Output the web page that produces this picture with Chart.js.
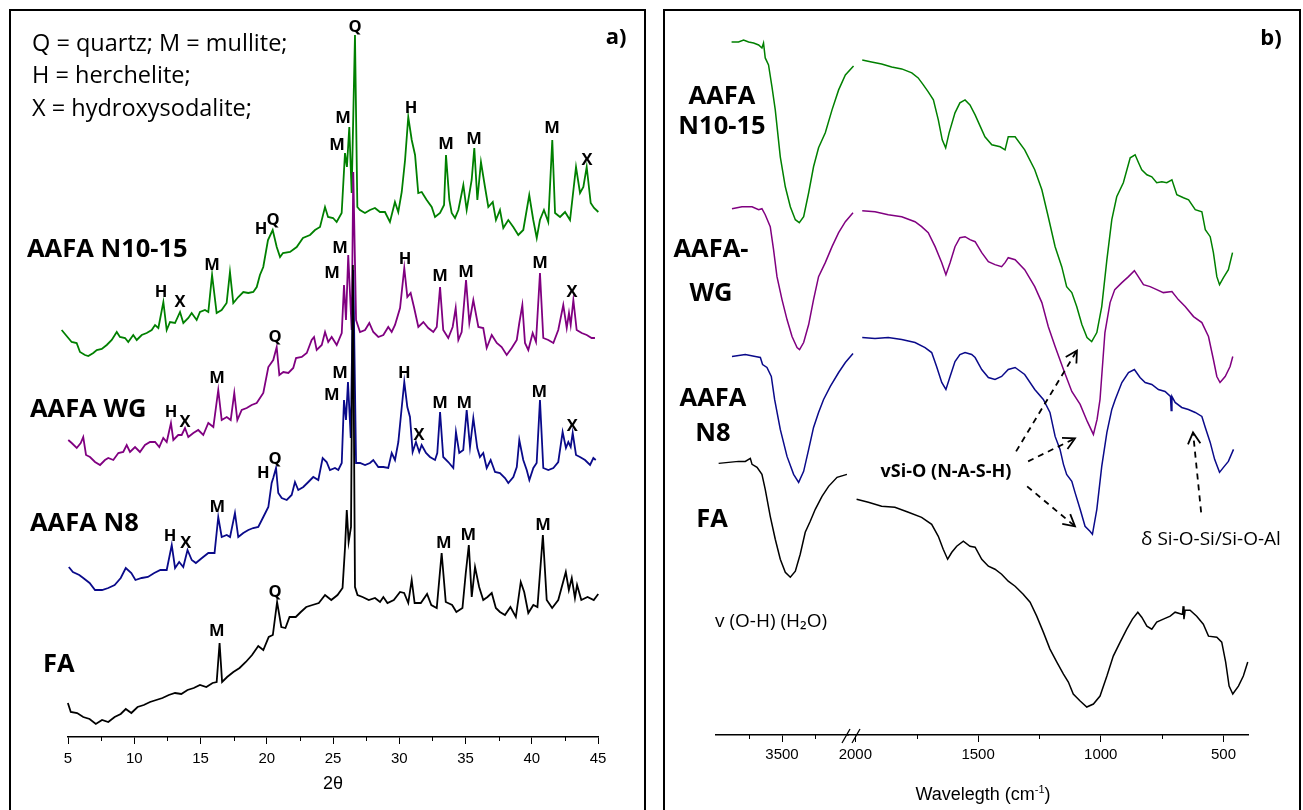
<!DOCTYPE html>
<html>
<head>
<meta charset="utf-8">
<script src="https://cdn.jsdelivr.net/npm/chart.js@4.4.1/dist/chart.umd.min.js"></script>
<style>
body { margin: 0; background: #fff; width: 1303px; height: 810px; overflow: hidden; position: relative; font-family: 'Open Sans', sans-serif; color: #000; }
.box { position: absolute; top: 9px; height: 830px; border: 2px solid #000; box-sizing: border-box; }
canvas { position: absolute; top: 10px; }
.t { position: absolute; white-space: nowrap; line-height: 1; transform: translateY(-50%); }
.c { position: absolute; white-space: nowrap; line-height: 1; transform: translate(-50%, -50%); }
.b { font-weight: bold; }
.name { font-weight: bold; font-size: 25.5px; }
</style>
</head>
<body>
<div class="box" style="left:9px;width:637px"></div>
<div class="box" style="left:663px;width:638px"></div>

<canvas id="xrd" width="637" height="800" style="left:9px"></canvas>
<canvas id="ftirLo" width="500" height="800" style="left:800px"></canvas>
<canvas id="ftirHi" width="240" height="800" style="left:664px"></canvas>

<!-- panel a texts -->
<div class="t" style="left:32px;top:43px;font-size:23.5px">Q = quartz; M = mullite;</div>
<div class="t" style="left:32px;top:75px;font-size:23.5px">H = herchelite;</div>
<div class="t" style="left:32px;top:108px;font-size:23.5px">X = hydroxysodalite;</div>
<div class="c b" style="left:616px;top:35px;font-size:22px">a)</div>
<div class="t name" style="left:27px;top:248px">AAFA N10-15</div>
<div class="t name" style="left:30px;top:408px">AAFA WG</div>
<div class="t name" style="left:30px;top:522px">AAFA N8</div>
<div class="t name" style="left:43px;top:663px">FA</div>

<!-- panel b texts -->
<div class="c b" style="left:1271px;top:36px;font-size:22px">b)</div>
<div class="c name" style="left:722px;top:95px">AAFA</div>
<div class="c name" style="left:722px;top:125px">N10-15</div>
<div class="c name" style="left:711px;top:248px">AAFA-</div>
<div class="c name" style="left:711px;top:292px">WG</div>
<div class="c name" style="left:713px;top:397px">AAFA</div>
<div class="c name" style="left:713px;top:432px">N8</div>
<div class="c name" style="left:712px;top:518px">FA</div>
<div class="c b" style="left:946px;top:470px;font-size:18px">vSi-O (N-A-S-H)</div>
<div class="c" style="left:1211px;top:538px;font-size:19px">δ Si-O-Si/Si-O-Al</div>
<div class="c" style="left:771px;top:620px;font-size:19px">v (O-H) (H₂O)</div>
<div class="c" style="left:983px;top:793px;font-size:18px;font-family:'Liberation Sans'">Wavelegth (cm<sup style="font-size:11px">-1</sup>)</div>

<script>
// ---------- XRD (panel a) ----------
const theta_N1015 = [5.00,5.24,5.48,5.96,6.20,6.56,6.80,7.16,7.40,7.76,8.01,8.37,8.73,9.09,9.45,9.68,10.05,10.28,10.64,10.89,11.25,11.61,11.97,12.21,12.45,12.81,13.05,13.29,13.65,14.01,14.25,14.61,14.85,15.21,15.45,15.81,16.05,16.32,16.65,17.01,17.37,17.61,17.85,18.21,18.57,18.93,19.29,19.54,19.77,20.01,20.35,20.69,20.98,21.22,21.43,21.94,22.42,22.87,23.38,23.74,24.10,24.46,24.68,25.04,25.30,25.66,25.90,26.04,26.21,26.38,26.62,26.79,26.98,27.34,27.70,28.06,28.42,28.78,29.14,29.50,29.74,29.99,30.23,30.46,30.71,30.95,31.18,31.43,31.79,32.15,32.39,32.75,33.04,33.18,33.42,33.59,33.83,34.07,34.43,34.67,35.03,35.22,35.44,35.70,35.99,36.23,36.55,36.78,37.07,37.31,37.67,38.03,38.39,38.75,39.18,39.47,39.72,39.95,40.24,40.55,40.84,41.04,41.40,41.76,42.12,42.55,42.84,43.08,43.32,43.61,43.85,44.16,44.52,45.00];
const int_N1015 = [410,415,407,399,395,394,385,382,381,384,387,388,392,397,405,400,399,395,402,397,402,404,407,412,409,435,407,415,414,425,414,419,424,417,425,427,425,462,424,427,434,465,434,440,445,444,445,450,462,470,497,507,490,480,484,485,490,499,502,507,510,530,520,519,515,524,584,570,610,544,702,530,527,524,527,529,525,525,515,535,525,545,577,620,597,582,544,545,537,530,520,524,532,582,537,524,519,527,552,527,557,589,537,575,550,530,535,517,527,509,517,510,502,507,542,517,499,517,527,515,597,524,520,525,517,570,544,550,570,534,529,525,524,520];

const theta_WG = [5.02,5.28,5.66,5.96,6.15,6.36,6.66,7.04,7.42,7.79,8.04,8.42,8.80,9.17,9.43,9.68,10.06,10.43,10.81,11.19,11.57,11.89,12.19,12.45,12.77,12.95,13.32,13.58,13.83,14.08,14.46,14.83,15.21,15.59,15.97,16.34,16.60,16.98,17.28,17.55,17.78,18.11,18.49,18.86,19.24,19.74,20.12,20.49,20.75,20.95,21.25,21.63,22.00,22.21,22.64,23.02,23.39,23.57,23.77,24.15,24.40,24.64,24.90,25.28,25.66,25.83,25.98,26.15,26.41,26.53,26.74,27.04,27.42,27.74,28.04,28.42,28.80,29.17,29.43,29.68,30.06,30.38,30.61,30.86,31.11,31.44,31.82,32.19,32.57,32.83,33.08,33.32,33.70,34.03,34.26,34.46,34.71,35.04,35.29,35.59,35.97,36.34,36.60,36.98,37.36,37.73,38.11,38.49,38.87,39.06,39.29,39.49,39.74,40.07,40.32,40.62,40.87,41.25,41.63,42.00,42.38,42.64,42.81,42.94,43.14,43.39,43.77,44.15,44.52,44.77];
const int_WG = [297,294,289,294,300,282,280,275,272,277,279,277,284,285,292,285,290,285,292,295,295,290,299,295,314,297,302,302,309,300,304,307,302,314,310,347,317,320,317,344,317,327,329,332,334,344,370,377,390,362,365,364,369,379,380,384,397,400,387,392,405,395,400,392,404,452,417,482,407,565,417,405,407,414,405,400,402,410,405,412,429,469,440,444,430,410,415,409,405,410,450,407,399,410,429,397,405,457,414,437,410,409,389,402,394,390,382,389,397,414,432,394,387,404,395,464,399,397,394,407,432,409,424,412,437,407,404,402,399,399];

const theta_N8 = [5.06,5.37,5.85,6.15,6.63,7.04,7.57,8.04,8.52,8.98,9.36,9.78,10.09,10.56,11.03,11.51,11.97,12.45,12.83,13.08,13.39,13.70,14.02,14.34,14.65,15.11,15.59,16.06,16.34,16.60,16.98,17.23,17.60,17.85,18.23,18.61,18.98,19.36,19.74,20.12,20.37,20.49,20.70,20.87,21.13,21.51,21.88,22.13,22.38,22.76,23.14,23.51,23.89,24.22,24.52,24.77,25.15,25.40,25.66,25.83,25.98,26.13,26.34,26.53,26.74,27.04,27.42,27.79,28.04,28.42,28.80,29.17,29.43,29.68,29.93,30.19,30.38,30.61,30.81,31.01,31.26,31.51,31.69,32.02,32.32,32.70,32.87,33.08,33.32,33.70,34.08,34.28,34.53,34.83,35.09,35.34,35.59,35.89,36.09,36.34,36.60,36.90,37.23,37.60,37.98,38.23,38.61,38.87,39.06,39.36,39.62,39.82,40.12,40.37,40.62,40.87,41.25,41.63,42.00,42.33,42.58,42.76,42.94,43.09,43.34,43.64,44.02,44.40,44.65,44.83];
const int_N8 = [170,165,162,159,154,147,147,149,152,159,169,164,157,159,160,164,167,167,192,169,175,170,187,177,174,179,184,184,220,200,202,200,224,200,204,207,209,210,220,230,254,259,269,244,239,237,242,255,247,250,255,260,257,279,275,267,269,267,274,337,317,355,299,467,274,274,272,274,277,270,270,269,284,277,295,330,355,330,320,285,295,285,292,284,280,277,284,325,280,275,269,305,284,287,327,290,319,289,280,284,269,277,265,264,259,254,260,270,297,277,267,257,269,274,337,269,267,269,275,305,289,295,290,304,282,280,277,272,279,277];

const theta_FA = [4.99,5.21,5.69,6.15,6.63,7.10,7.57,8.04,8.52,8.98,9.36,9.78,10.25,10.72,11.19,11.66,12.13,12.61,13.08,13.55,14.02,14.49,14.96,15.44,15.91,16.22,16.44,16.63,17.01,17.48,17.95,18.42,18.89,19.36,19.74,20.15,20.46,20.78,21.10,21.41,21.72,22.19,22.57,22.98,23.45,23.93,24.40,24.87,25.34,25.72,25.91,26.04,26.18,26.36,26.50,26.66,26.85,27.23,27.70,28.17,28.55,28.80,29.11,29.59,30.06,30.37,30.68,30.94,31.16,31.63,32.10,32.42,32.83,33.20,33.51,33.99,34.31,34.77,35.02,35.25,35.47,35.72,36.03,36.34,36.66,36.98,37.29,37.60,37.98,38.39,38.80,39.17,39.43,39.74,40.12,40.43,40.84,41.13,41.54,42.00,42.57,42.80,43.02,43.26,43.42,43.74,44.21,44.68,45.02];
const int_FA = [34,25,24,20,18,13,17,15,20,23,28,24,30,32,35,37,39,42,44,43,47,49,52,50,54,55,94,55,60,65,69,75,82,91,87,100,102,135,110,109,120,120,125,130,132,134,142,137,142,149,190,227,195,210,472,150,142,140,137,139,135,140,134,137,145,144,134,157,134,134,143,132,129,184,135,132,125,129,164,192,140,170,150,137,140,144,129,125,122,130,120,155,145,124,132,130,202,137,129,137,165,147,159,139,152,137,140,137,143];

const xrdMinorTicks = [7.5,12.5,17.5,22.5,27.5,32.5,37.5,42.5];

// phase labels: [letter, 2theta, height]
const peaks_N1015 = [['H',12.64,445],['X',14.01,435],['M',16.32,472],['H',19.85,508],['Q',20.71,517],['M',25.32,592],['M',25.76,619],['Q',26.62,710],['H',30.66,629],['M',33.18,593],['M',35.20,598],['M',40.82,609],['X',43.34,577]];
const peaks_WG = [['H',12.77,325],['X',13.83,315],['M',16.25,359],['Q',20.62,400],['M',24.92,464],['M',25.53,489],['H',30.43,478],['M',33.08,461],['M',35.04,465],['M',40.62,474],['X',43.04,445]];
const peaks_N8 = [['H',12.70,201],['X',13.89,194],['M',16.27,230],['H',19.74,264],['Q',20.62,278],['M',24.90,342],['M',25.53,364],['H',30.38,364],['X',31.49,302],['M',33.08,334],['M',34.91,334],['M',40.57,345],['X',43.06,311]];
const peaks_FA = [['M',16.22,106],['Q',20.62,145],['M',33.36,194],['M',35.21,202],['M',40.85,212]];

// ---------- FTIR (panel b) ----------
const wnHi_N1015 = [3882,3829,3791,3753,3715,3677,3652,3640,3627,3602,3576,3551,3513,3475,3437,3399,3369,3336,3298,3261,3223,3172,3121,3071,3020,2958];
const absHi_N1015 = [694,694,696,694,693,691,688,693,678,671,649,626,579,549,529,516,513,519,543,569,588,603,626,646,661,670];
const wnLo_N1015 = [1972,1934,1893,1852,1811,1770,1744,1723,1703,1682,1662,1646,1632,1618,1594,1574,1553,1533,1512,1492,1472,1444,1410,1390,1377,1349,1310,1269,1240,1214,1186,1159,1139,1118,1098,1077,1056,1037,1016,996,975,955,935,908,880,860,846,833,812,792,772,751,731,710,690,663,642,615,588,574,554,541,527,516,500,480,463];
const absLo_N1015 = [676,674,672,669,667,663,658,651,644,636,616,596,588,603,623,633,636,631,621,610,599,591,589,586,599,599,586,566,546,519,489,469,449,443,429,411,398,394,403,429,476,516,539,553,578,581,573,566,561,559,553,554,553,556,541,538,536,526,524,506,499,483,459,451,458,466,483];

const wnHi_WG = [3879,3803,3727,3677,3652,3627,3589,3564,3538,3500,3462,3424,3386,3367,3336,3298,3261,3223,3172,3121,3071,3020,2962];
const absHi_WG = [527,529,529,526,527,521,509,486,459,436,416,399,388,386,393,411,436,459,473,489,503,514,523];
const wnLo_WG = [1972,1920,1866,1811,1757,1730,1703,1675,1648,1631,1614,1594,1574,1553,1533,1512,1485,1458,1431,1404,1390,1377,1349,1310,1269,1240,1214,1186,1152,1118,1084,1055,1030,1015,1003,983,962,943,914,887,863,847,826,799,772,745,710,684,656,622,588,561,541,527,514,493,473,462];
const absLo_WG = [525,524,521,519,514,509,503,489,473,461,473,489,498,499,496,494,483,474,471,469,473,478,476,466,449,433,409,389,366,344,331,314,301,316,336,403,433,446,453,459,465,459,451,449,446,443,444,436,429,419,413,399,376,359,353,359,369,379];

const wnHi_N8 = [3879,3778,3702,3664,3647,3614,3581,3556,3513,3462,3412,3374,3336,3298,3261,3223,3185,3134,3071,3020,2962];
const absHi_N8 = [379,381,379,378,371,368,359,336,306,279,261,253,264,286,308,323,336,349,363,373,382];
const wnLo_N8 = [1972,1920,1866,1811,1757,1716,1689,1669,1648,1631,1614,1594,1574,1553,1526,1512,1485,1458,1431,1404,1377,1349,1310,1269,1234,1207,1186,1166,1152,1139,1118,1105,1084,1064,1044,1034,1016,996,975,955,941,914,887,863,840,819,792,765,738,716,713,710,697,670,643,615,588,574,554,536,516,500,480,459];
const absLo_N8 = [398,397,398,396,393,388,383,369,353,346,359,374,381,383,381,378,366,358,356,359,366,368,361,346,336,323,299,286,271,261,254,243,226,209,204,201,226,269,303,326,336,353,363,366,358,353,351,346,344,339,325,339,333,328,326,323,319,308,293,276,263,268,274,286];

const wnHi_FA = [3980,3905,3829,3778,3740,3727,3689,3652,3627,3589,3551,3513,3475,3437,3399,3362,3324,3286,3248,3197,3147,3083,3008];
const absHi_FA = [272,273,274,274,277,271,268,261,246,219,196,176,163,158,164,181,203,214,226,239,249,258,261];
const wnLo_FA = [1995,1947,1893,1839,1784,1730,1689,1662,1642,1624,1607,1587,1560,1533,1512,1485,1458,1431,1404,1377,1349,1316,1288,1261,1234,1207,1179,1152,1132,1112,1084,1057,1030,1003,975,949,921,894,871,849,833,812,792,772,745,717,697,670,667,664,661,656,636,609,582,561,527,507,491,477,462,439,419,401];
const absLo_FA = [236,233,229,228,223,218,211,199,186,176,183,189,194,189,188,176,169,166,161,154,149,141,133,119,103,86,73,61,53,41,34,28,31,39,59,79,93,106,116,123,118,109,106,113,116,119,123,121,121,129,116,125,125,119,111,99,98,93,73,49,41,49,59,73];

const wnTicksHi = [3500];
const wnMinorHi = [3750, 3250];
const wnTicksLo = [500, 1000, 1500, 2000];
const wnMinorLo = [750, 1250, 1750];

// dashed arrows [fromWn, fromY, toWn, toY]
const arrowsLo = [[1345,284,1097,385],[1296,274,1105,297],[1300,249,1105,209],[591,223,624,303]];

const GREEN = 'rgb(0,128,0)', PURPLE = 'rgb(128,0,128)', BLUE = 'rgb(10,10,138)', BLACK = '#000';

const pts = (xs, ys) => xs.map((x, i) => ({ x: x, y: ys[i] }));

const overlay = {
  id: 'overlay',
  afterDatasetsDraw(chart, args, o) {
    const ctx = chart.ctx, a = chart.chartArea, sx = chart.scales.x, sy = chart.scales.y;
    ctx.save();
    ctx.strokeStyle = '#000';
    ctx.fillStyle = '#000';
    ctx.lineWidth = 1;
    (o.minor || []).forEach(v => {
      const px = Math.round(sx.getPixelForValue(v)) + 0.5;
      ctx.beginPath();
      ctx.moveTo(px, a.bottom);
      ctx.lineTo(px, a.bottom + o.minorLen);
      ctx.stroke();
    });
    ctx.font = 'bold 16.5px "Open Sans"';
    ctx.textAlign = 'center';
    ctx.textBaseline = 'middle';
    (o.peaks || []).forEach(g => {
      const s = chart.scales[g.axis];
      g.items.forEach(p => ctx.fillText(p[0], s.getPixelForValue(p[1]), sy.getPixelForValue(p[2])));
    });
    ctx.lineWidth = 1.8;
    (o.arrows || []).forEach(ar => {
      const x0 = sx.getPixelForValue(ar[0]), y0 = sy.getPixelForValue(ar[1]);
      const x1 = sx.getPixelForValue(ar[2]), y1 = sy.getPixelForValue(ar[3]);
      ctx.setLineDash([6, 5]);
      ctx.beginPath(); ctx.moveTo(x0, y0); ctx.lineTo(x1, y1); ctx.stroke();
      ctx.setLineDash([]);
      const ang = Math.atan2(y1 - y0, x1 - x0), L = 13;
      ctx.beginPath();
      ctx.moveTo(x1 - L * Math.cos(ang - 0.5), y1 - L * Math.sin(ang - 0.5));
      ctx.lineTo(x1, y1);
      ctx.lineTo(x1 - L * Math.cos(ang + 0.5), y1 - L * Math.sin(ang + 0.5));
      ctx.stroke();
    });
    if (o.breakMark) {
      ctx.lineWidth = 1.3;
      [[-6, 2], [4, 12]].forEach(p => {
        ctx.beginPath();
        ctx.moveTo(a.left + p[0], a.bottom + 8);
        ctx.lineTo(a.left + p[1], a.bottom - 6);
        ctx.stroke();
      });
    }
    ctx.restore();
  }
};

const tickFont = { family: 'Liberation Sans', size: 15 };

new Chart(document.getElementById('xrd'), {
  type: 'line',
  data: {
    datasets: [
      { data: pts(theta_FA, int_FA), borderColor: BLACK },
      { data: pts(theta_N8, int_N8), borderColor: BLUE },
      { data: pts(theta_WG, int_WG), borderColor: PURPLE },
      { data: pts(theta_N1015, int_N1015), borderColor: GREEN, xAxisID: 'xg' }
    ]
  },
  options: {
    responsive: false,
    animation: false,
    layout: { padding: { left: 59, right: 48, top: 0, bottom: 11 } },
    elements: { point: { radius: 0 }, line: { borderWidth: 1.8, tension: 0 } },
    datasets: { line: { clip: false } },
    plugins: {
      legend: { display: false },
      tooltip: { enabled: false },
      overlay: {
        minor: xrdMinorTicks, minorLen: 4,
        peaks: [
          { axis: 'xg', items: peaks_N1015 },
          { axis: 'x', items: peaks_WG },
          { axis: 'x', items: peaks_N8 },
          { axis: 'x', items: peaks_FA }
        ]
      }
    },
    scales: {
      x: {
        type: 'linear', min: 5, max: 45,
        afterFit: s => { s.height = 62; },
        ticks: { stepSize: 5, color: '#000', font: tickFont, padding: 6, maxRotation: 0, autoSkip: false, callback: v => String(v) },
        grid: { drawOnChartArea: false, tickLength: 7, color: '#000' },
        border: { color: '#000', width: 1.5 },
        title: { display: true, text: '2θ', color: '#000', font: { family: 'Liberation Sans', size: 18 }, padding: { top: 4, bottom: 4 } }
      },
      // the N10-15 pattern is drawn slightly wider in the source figure
      xg: { type: 'linear', display: false, min: 5.937, max: 44.135 },
      y: { display: false, min: 0, max: 727 }
    }
  },
  plugins: [overlay]
});

function ftirChart(id, sets, min, max, major, minor, pad, extra) {
  return new Chart(document.getElementById(id), {
    type: 'line',
    data: {
      datasets: sets.map(s => ({ data: pts(s[0], s[1]), borderColor: s[2] }))
    },
    options: {
      responsive: false,
      animation: false,
      layout: { padding: pad },
      elements: { point: { radius: 0 }, line: { borderWidth: 1.5, tension: 0 } },
      datasets: { line: { clip: false } },
      plugins: {
        legend: { display: false },
        tooltip: { enabled: false },
        overlay: Object.assign({ minor: minor, minorLen: 4 }, extra)
      },
      scales: {
        x: {
          type: 'linear', reverse: true, min: min, max: max,
          afterBuildTicks: s => { s.ticks = major.map(v => ({ value: v })); },
          afterFit: s => { s.height = 70; },
          ticks: { color: '#000', font: tickFont, padding: 4, maxRotation: 0, autoSkip: false, callback: v => String(v) },
          grid: { drawOnChartArea: false, tickLength: 7, color: '#000' },
          border: { color: '#000', width: 1.5 }
        },
        y: { display: false, min: 0, max: 726 }
      }
    },
    plugins: [overlay]
  });
}

ftirChart('ftirLo', [
  [wnLo_FA, absLo_FA, BLACK],
  [wnLo_N8, absLo_N8, BLUE],
  [wnLo_WG, absLo_WG, PURPLE],
  [wnLo_N1015, absLo_N1015, GREEN]
], 400, 2030, wnTicksLo, wnMinorLo, { left: 48, right: 52, top: 0, bottom: 5 }, { arrows: arrowsLo, breakMark: true });

ftirChart('ftirHi', [
  [wnHi_FA, absHi_FA, BLACK],
  [wnHi_N8, absHi_N8, BLUE],
  [wnHi_WG, absHi_WG, PURPLE],
  [wnHi_N1015, absHi_N1015, GREEN]
], 3000, 4000, wnTicksHi, wnMinorHi, { left: 52, right: 56, top: 0, bottom: 5 }, {});
</script>
</body>
</html>
